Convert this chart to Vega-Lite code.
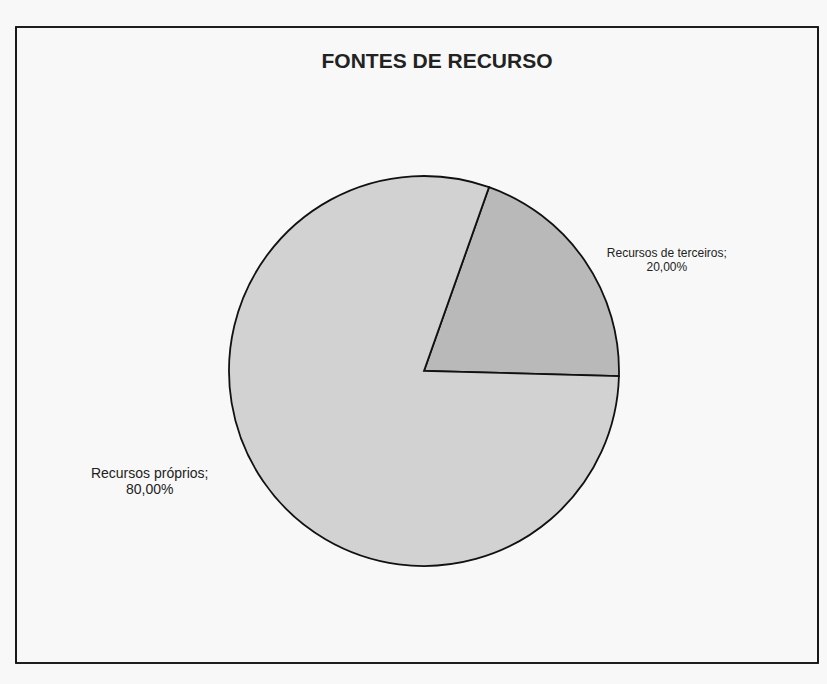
{
  "$schema": "https://vega.github.io/schema/vega-lite/v6.json",
  "width": 827,
  "height": 684,
  "autosize": {"type": "fit", "contains": "padding"},
  "padding": {"left": 15, "top": 26, "right": 8, "bottom": 20},
  "background": "#f8f8f8",
  "title": {
    "text": "FONTES DE RECURSO",
    "anchor": "middle",
    "frame": "group",
    "offset": -46,
    "dx": 20,
    "font": "Liberation Sans",
    "fontSize": 21,
    "fontWeight": "bold",
    "color": "#222222"
  },
  "data": {
    "values": [
      {"fonte": "Recursos de terceiros", "valor": 20, "rotulo": "Recursos de terceiros;\n20,00%"},
      {"fonte": "Recursos próprios", "valor": 80, "rotulo": "Recursos próprios;\n80,00%"}
    ]
  },
  "layer": [
    {
      "mark": {"type": "rect", "fill": null, "stroke": "#111111", "strokeWidth": 1.6},
      "encoding": {}
    },
    {
      "mark": {"type": "arc", "outerRadius": 195, "stroke": "#111111", "strokeWidth": 1.8, "y": {"expr": "height/2 + 26"}, "x": {"expr": "width/2 + 7"}},
      "encoding": {
        "theta": {"field": "valor", "type": "quantitative", "stack": true, "scale": {"range": [0.34, 6.6232]}},
        "order": {"field": "valor", "type": "quantitative", "sort": "ascending"},
        "color": {
          "field": "fonte",
          "type": "nominal",
          "scale": {"domain": ["Recursos de terceiros", "Recursos próprios"], "range": ["#b9b9b9", "#d2d2d2"]},
          "legend": null
        }
      }
    },
    {
      "transform": [{"filter": "datum.fonte === 'Recursos de terceiros'"}],
      "mark": {"type": "text", "radius": 270, "thetaOffset": 0.15, "font": "Liberation Sans", "fontSize": 12, "color": "#222222", "lineBreak": "\n", "align": "center", "baseline": "middle", "y": {"expr": "height/2 + 26"}, "x": {"expr": "width/2 + 7"}},
      "encoding": {
        "theta": {"field": "valor", "type": "quantitative", "stack": true},
        "text": {"field": "rotulo", "type": "nominal"}
      }
    },
    {
      "transform": [{"filter": "datum.fonte === 'Recursos próprios'"}],
      "mark": {"type": "text", "radius": 293, "thetaOffset": 1.50, "font": "Liberation Sans", "fontSize": 14, "color": "#222222", "lineBreak": "\n", "align": "center", "baseline": "middle", "y": {"expr": "height/2 + 26"}, "x": {"expr": "width/2 + 7"}},
      "encoding": {
        "theta": {"field": "valor", "type": "quantitative", "stack": true},
        "text": {"field": "rotulo", "type": "nominal"}
      }
    }
  ]
}
